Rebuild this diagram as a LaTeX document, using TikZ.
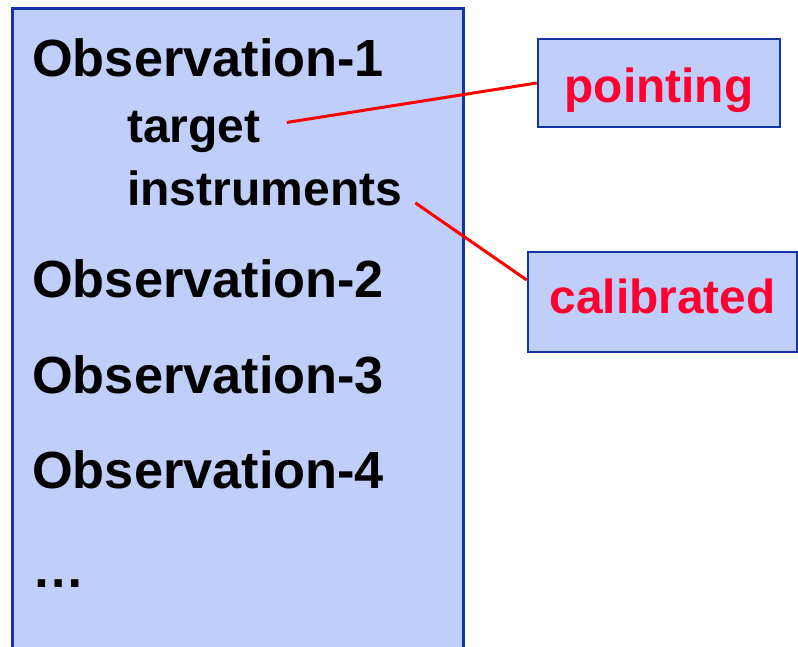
\documentclass[tikz,border=0pt]{standalone}
\usepackage{fontspec}
\setmainfont{Liberation Sans}
\usetikzlibrary{positioning}
\definecolor{cfill}{HTML}{C0CFFA}
\definecolor{cblue}{HTML}{1434A4}
\definecolor{cred}{HTML}{FF0030}
\tikzset{
  every picture/.style={font=\bfseries, line width=2.6pt},
  box/.style={draw=cblue, fill=cfill, inner sep=0pt},
  link/.style={draw=red, line width=3pt},
  big/.style={font=\bfseries\fontsize{52.3}{60}\selectfont, anchor=base west, inner sep=0pt},
  small/.style={font=\bfseries\fontsize{48}{54}\selectfont, anchor=base west, inner sep=0pt},
}
\begin{document}
\begin{tikzpicture}[x=1pt, y=-1pt,
    tag/.style={box, text=cred, font=\bfseries\fontsize{47.8}{54}\selectfont}]
  \useasboundingbox (0,0) rectangle (798,646);
  % the list of observations
  \node[box, anchor=north west, minimum width=451pt, minimum height=680pt] (list) at (11,7) {};
  \node[big] (o1) at (31,76) {Observation-1};
  \node[small] (tgt) at (126,142) {target};
  \node[small] (ins) at (126,205) {instruments};
  \node[big] (o2) at (31,297) {Observation-2};
  \node[big] (o3) at (31,393) {Observation-3};
  \node[big] (o4) at (31,488) {Observation-4};
  \node[big] (more) at (31,587) {…};
  % the two properties
  \node[tag, minimum width=242pt, text height=63pt, text depth=25pt, anchor=base] (pnt) at (659,102) {pointing};
  \node[tag, minimum width=269pt, text height=61pt, text depth=39pt, anchor=base] (cal) at (662.5,313) {calibrated};
  \draw[link] ([xshift=25pt, yshift=9pt]tgt.east) -- (pnt.west);
  \draw[link] ([xshift=12pt, yshift=-15pt]ins.east) -- ([yshift=22pt]cal.west);
\end{tikzpicture}
\end{document}
